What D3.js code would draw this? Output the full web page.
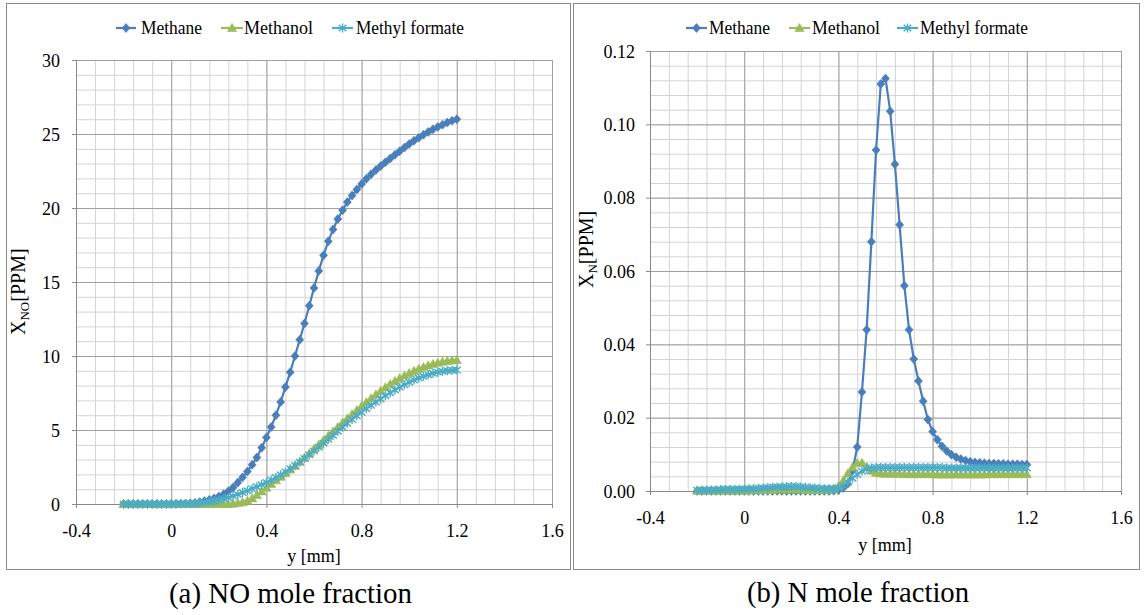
<!DOCTYPE html>
<html><head><meta charset="utf-8">
<script src="https://cdn.jsdelivr.net/npm/d3@7"></script>
</head><body style="margin:0;background:#fff">
<svg id="c" width="1145" height="615"></svg>
<script>
// ---------- DATA ----------
const seriesNames = ["Methane", "Methanol", "Methyl formate"];
const xGrid = [-0.2,-0.18,-0.16,-0.14,-0.12,-0.1,-0.08,-0.06,-0.04,-0.02,
  0,0.02,0.04,0.06,0.08,0.1,0.12,0.14,0.16,0.18,
  0.2,0.22,0.24,0.26,0.28,0.3,0.32,0.34,0.36,0.38,
  0.4,0.42,0.44,0.46,0.48,0.5,0.52,0.54,0.56,0.58,
  0.6,0.62,0.64,0.66,0.68,0.7,0.72,0.74,0.76,0.78,
  0.8,0.82,0.84,0.86,0.88,0.9,0.92,0.94,0.96,0.98,
  1.0,1.02,1.04,1.06,1.08,1.1,1.12,1.14,1.16,1.18,
  1.2];
// NO mole fraction [PPM]
const noMethane = [0,0,0,0,0,0,0,0,0,0,
  0,0.01,0.02,0.03,0.05,0.08,0.13,0.2,0.28,0.38,
  0.5,0.66,0.86,1.12,1.45,1.8,2.2,2.65,3.15,3.8,
  4.5,5.2,6.0,6.9,7.9,8.9,10.0,11.1,12.2,13.4,
  14.6,15.75,16.8,17.75,18.55,19.25,19.85,20.4,20.85,21.25,
  21.62,21.97,22.28,22.56,22.83,23.09,23.34,23.59,23.84,24.08,
  24.32,24.54,24.75,24.95,25.14,25.32,25.48,25.63,25.77,25.89,
  26.0];
const noMethanol = [0,0,0,0,0,0,0,0,0,0,
  0,0,0,0,0,0,0,0,0,0,
  0,0,0,0.02,0.06,0.12,0.22,0.38,0.6,0.85,
  1.1,1.35,1.6,1.84,2.08,2.33,2.58,2.85,3.13,3.42,
  3.71,4.0,4.3,4.6,4.9,5.2,5.5,5.78,6.06,6.34,
  6.62,6.88,7.14,7.4,7.64,7.88,8.1,8.31,8.5,8.68,
  8.84,8.99,9.13,9.25,9.36,9.46,9.54,9.61,9.66,9.7,
  9.72];
const noMethylFormate = [0,0,0,0,0,0,0,0,0,0,
  0,0,0.01,0.01,0.02,0.03,0.06,0.1,0.15,0.2,
  0.27,0.35,0.44,0.54,0.65,0.77,0.9,1.03,1.17,1.31,
  1.46,1.62,1.79,1.97,2.17,2.38,2.6,2.83,3.07,3.32,
  3.58,3.84,4.11,4.38,4.65,4.92,5.19,5.45,5.71,5.96,
  6.2,6.44,6.67,6.89,7.1,7.32,7.52,7.71,7.89,8.06,
  8.22,8.37,8.51,8.63,8.74,8.83,8.91,8.97,9.01,9.04,
  9.05];
// N mole fraction [PPM]
const nMethane = [0,0,0,0,0,0,0,0,0,0,
  0,0,0,0,0,0,0,0,0,0,
  0,0,0,0,0,0,0,0,0,0.0001,
  0.0003,0.0008,0.002,0.0055,0.012,0.027,0.044,0.068,0.093,0.111,
  0.1125,0.1036,0.0891,0.0726,0.056,0.044,0.036,0.030,0.0245,0.0195,
  0.0162,0.0140,0.0122,0.0109,0.0099,0.0092,0.0087,0.0083,0.0080,0.0078,
  0.0077,0.0076,0.0075,0.0075,0.0074,0.0074,0.0073,0.0073,0.0073,0.0072,
  0.0072];
const nMethanol = [0.0001,0.0001,0.0001,0.0001,0.0001,0.0001,0.0001,0.0001,0.0001,0.0001,
  0.0001,0.0002,0.0002,0.0002,0.0003,0.0003,0.0003,0.0004,0.0004,0.0004,
  0.0004,0.0004,0.0004,0.0003,0.0003,0.0003,0.0003,0.0003,0.0004,0.0006,
  0.0013,0.0028,0.0048,0.0065,0.0076,0.0077,0.0066,0.0055,0.0050,0.0048,
  0.0047,0.0047,0.0047,0.0047,0.0046,0.0046,0.0046,0.0046,0.0046,0.0046,
  0.0046,0.0045,0.0045,0.0045,0.0045,0.0045,0.0045,0.0045,0.0045,0.0045,
  0.0045,0.0045,0.0046,0.0046,0.0046,0.0046,0.0046,0.0046,0.0046,0.0046,
  0.0046];
const nMethylFormate = [0.0002,0.0002,0.0003,0.0003,0.0003,0.0004,0.0004,0.0004,0.0005,0.0005,
  0.0005,0.0006,0.0006,0.0007,0.0008,0.0009,0.0010,0.0011,0.0011,0.0012,
  0.0012,0.0012,0.0011,0.0010,0.0009,0.0008,0.0007,0.0006,0.0006,0.0006,
  0.0008,0.0014,0.0024,0.0035,0.0045,0.0054,0.0060,0.0063,0.0064,0.0064,
  0.0064,0.0064,0.0064,0.0064,0.0064,0.0064,0.0064,0.0064,0.0064,0.0064,
  0.0064,0.0064,0.0064,0.0063,0.0063,0.0063,0.0063,0.0063,0.0063,0.0063,
  0.0063,0.0063,0.0063,0.0063,0.0063,0.0063,0.0063,0.0063,0.0063,0.0063,
  0.0063];
const xTicks = [-0.4, 0, 0.4, 0.8, 1.2, 1.6];
const xTickLabels = ["-0.4", "0", "0.4", "0.8", "1.2", "1.6"];
const noYTicks = [0, 5, 10, 15, 20, 25, 30];
const noYTickLabels = ["0", "5", "10", "15", "20", "25", "30"];
const nYTicks = [0, 0.02, 0.04, 0.06, 0.08, 0.10, 0.12];
const nYTickLabels = ["0.00", "0.02", "0.04", "0.06", "0.08", "0.10", "0.12"];
const xTitle = "y [mm]";
const yTitleSubs = ["NO", "N"];
const captions = ["(a) NO mole fraction", "(b) N mole fraction"];

// ---------- STYLE / LAYOUT ----------
const FONT = '"Liberation Serif"';
const colors = ["#4a7ebb", "#9bbb59", "#4bacc6"];
const markerPaths = [
  "M0,-4.5L4,0L0,4.5L-4,0Z",
  "M0,-4.6L4.6,3.5L-4.6,3.5Z",
  "M0,-4.5V4.5M-3.8,-3.2L3.8,3.2M-3.8,3.2L3.8,-3.2"
];
const panels = [
  {box:[6.5,3.5,570.5,569.5], plot:{l:76,r:552,t:60,b:504}, yDomain:[0,30], yTicks:noYTicks, yLabels:noYTickLabels,
   yMinor:1, data:[noMethane,noMethanol,noMethylFormate], yLabelGap:16,
   xTitlePos:[314,562], yTitlePos:[25,335], sub:yTitleSubs[0],
   legend:{y:28, lines:[[116,136],[221,243],[332,353]], textX:[141,244,356], textW:[61,69,108]},
   cap:{text:captions[0], x:290.5, y:603, w:243}},
  {box:[573.5,3.5,1139.5,569.5], plot:{l:650,r:1121,t:51,b:491}, yDomain:[0,0.12], yTicks:nYTicks, yLabels:nYTickLabels,
   yMinor:0.004, data:[nMethane,nMethanol,nMethylFormate], yLabelGap:15,
   xTitlePos:[885,551], yTitlePos:[593,288], sub:yTitleSubs[1],
   legend:{y:28, lines:[[686,707],[789,810],[897,918]], textX:[709,812,920], textW:[61,68,108]},
   cap:{text:captions[1], x:858, y:602, w:222}}
];

const svg = d3.select("#c").style("font-family", FONT);
svg.append("rect").attr("width",1145).attr("height",615).attr("fill","#fff");

function serif(sel, size) {
  return sel.style("font-family", FONT).style("font-size", size + "px").style("fill", "#000");
}

panels.forEach(p => {
  const g = svg.append("g");
  const [bx0,by0,bx1,by1] = p.box;
  g.append("rect").attr("x",bx0).attr("y",by0).attr("width",bx1-bx0).attr("height",by1-by0)
    .attr("fill","none").attr("stroke","#8a8a8a").attr("stroke-width",1);

  const x = d3.scaleLinear().domain([-0.4,1.6]).range([p.plot.l,p.plot.r]);
  const y = d3.scaleLinear().domain(p.yDomain).range([p.plot.b,p.plot.t]);
  const W = p.plot.r - p.plot.l, H = p.plot.b - p.plot.t;

  const xMinor = d3.range(0,26).map(i => -0.4 + 0.08*i);
  const nY = Math.round(p.yDomain[1]/p.yMinor);
  const yMinor = d3.range(0,nY+1).map(i => i*p.yMinor);

  // minor grid
  g.append("g").attr("transform",`translate(0,${p.plot.b})`)
    .call(d3.axisBottom(x).tickValues(xMinor).tickSize(-H).tickFormat(""))
    .call(s => { s.select(".domain").remove(); s.selectAll("text").remove(); s.selectAll("line").attr("stroke","#d4d4d4"); });
  g.append("g").attr("transform",`translate(${p.plot.l},0)`)
    .call(d3.axisLeft(y).tickValues(yMinor).tickSize(-W).tickFormat(""))
    .call(s => { s.select(".domain").remove(); s.selectAll("text").remove(); s.selectAll("line").attr("stroke","#d4d4d4"); });
  // major grid
  g.append("g").attr("transform",`translate(0,${p.plot.b})`)
    .call(d3.axisBottom(x).tickValues(xTicks).tickSize(-H).tickFormat(""))
    .call(s => { s.select(".domain").remove(); s.selectAll("text").remove(); s.selectAll("line").attr("stroke","#a0a0a0"); });
  g.append("g").attr("transform",`translate(${p.plot.l},0)`)
    .call(d3.axisLeft(y).tickValues(p.yTicks).tickSize(-W).tickFormat(""))
    .call(s => { s.select(".domain").remove(); s.selectAll("text").remove(); s.selectAll("line").attr("stroke","#a0a0a0"); });

  // axes with labels
  const xa = g.append("g").attr("transform",`translate(0,${p.plot.b})`)
    .call(d3.axisBottom(x).tickValues(xTicks).tickSizeInner(4).tickSizeOuter(0)
      .tickFormat((d,i) => xTickLabels[i]));
  xa.select(".domain").attr("stroke","#8a8a8a");
  xa.selectAll("line").attr("stroke","#8a8a8a");
  serif(xa.selectAll("text").attr("y",33).attr("dy",0), 18);

  const ya = g.append("g").attr("transform",`translate(${p.plot.l},0)`)
    .call(d3.axisLeft(y).tickValues(p.yTicks).tickSizeInner(4).tickSizeOuter(0)
      .tickFormat((d,i) => p.yLabels[i]));
  ya.select(".domain").attr("stroke","#8a8a8a");
  ya.selectAll("line").attr("stroke","#8a8a8a");
  serif(ya.selectAll("text").attr("x",-p.yLabelGap).attr("dy","0.34em"), 18);

  // titles
  serif(g.append("text").attr("x",p.xTitlePos[0]).attr("y",p.xTitlePos[1]).attr("text-anchor","middle"), 18)
    .text(xTitle);
  const yt = serif(g.append("text").attr("transform",`translate(${p.yTitlePos[0]},${p.yTitlePos[1]}) rotate(-90)`)
    .attr("text-anchor","start"), 20);
  yt.append("tspan").text("X");
  yt.append("tspan").attr("dy",4).style("font-size","13px").text(p.sub);
  yt.append("tspan").attr("dy",-4).style("font-size","20px").text("[PPM]");

  // series
  const line = d3.line().x(d => x(d[0])).y(d => y(d[1]));
  p.data.forEach((arr, si) => {
    const pts = xGrid.map((xv,i) => [xv, arr[i]]);
    g.append("path").datum(pts).attr("d",line).attr("fill","none")
      .attr("stroke",colors[si]).attr("stroke-width",2.2).attr("stroke-linejoin","round");
    g.append("g").selectAll("path").data(pts).join("path")
      .attr("transform",d => `translate(${x(d[0])},${y(d[1])})`)
      .attr("d",markerPaths[si])
      .attr("fill", si===2 ? "none" : colors[si])
      .attr("stroke",colors[si]).attr("stroke-width", si===2 ? 1.4 : 0.6);
  });

  // legend
  seriesNames.forEach((name, si) => {
    const [lx0,lx1] = p.legend.lines[si];
    g.append("line").attr("x1",lx0).attr("x2",lx1).attr("y1",p.legend.y).attr("y2",p.legend.y)
      .attr("stroke",colors[si]).attr("stroke-width",2.2);
    g.append("path").attr("transform",`translate(${(lx0+lx1)/2},${p.legend.y})`).attr("d",markerPaths[si])
      .attr("fill", si===2 ? "none" : colors[si]).attr("stroke",colors[si]).attr("stroke-width", si===2 ? 1.4 : 0.6);
    serif(g.append("text").attr("x",p.legend.textX[si]).attr("y",p.legend.y).attr("dy","0.33em"), 19)
      .attr("textLength",p.legend.textW[si]).attr("lengthAdjust","spacingAndGlyphs")
      .text(name);
  });

  // caption
  serif(g.append("text").attr("x",p.cap.x).attr("y",p.cap.y).attr("text-anchor","middle"), 29)
    .attr("textLength",p.cap.w).attr("lengthAdjust","spacingAndGlyphs")
    .text(p.cap.text);
});
</script>
</body></html>
